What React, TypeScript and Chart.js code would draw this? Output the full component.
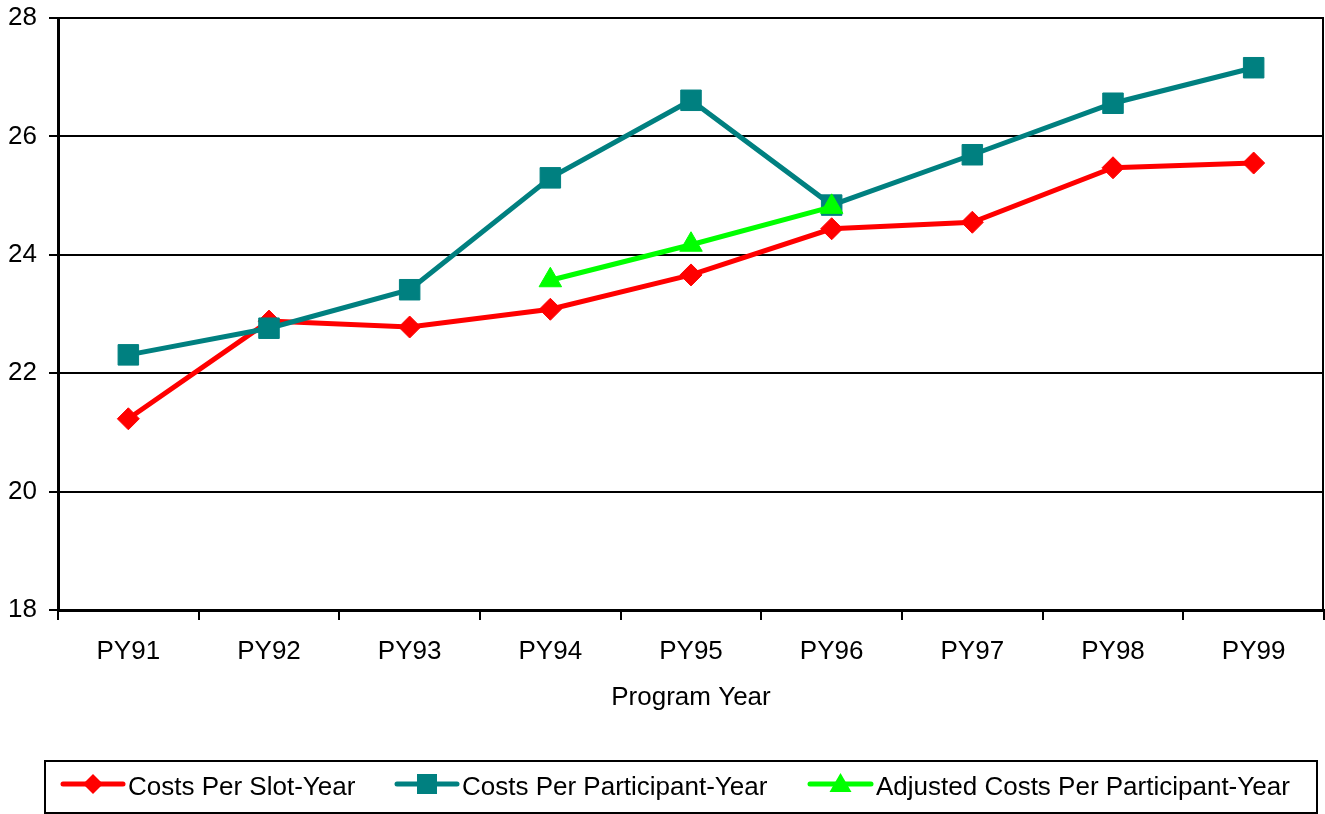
import React, { useEffect, useRef } from "react";
import { Chart, registerables } from "chart.js";

Chart.register(...registerables);

const categories = ["PY91", "PY92", "PY93", "PY94", "PY95", "PY96", "PY97", "PY98", "PY99"];
const slotYear = [21.23, 22.88, 22.78, 23.08, 23.66, 24.44, 24.55, 25.47, 25.55];
const participantYear = [22.31, 22.76, 23.41, 25.3, 26.61, 24.84, 25.69, 26.56, 27.16];
const adjustedParticipantYear = [null, null, null, 23.57, 24.17, 24.81, null, null, null];
const yTicks = [18, 20, 22, 24, 26, 28];

const FONT = "'Liberation Sans', Arial, sans-serif";
const RED = "#FF0000";
const TEAL = "#008080";
const GREEN = "#00FF00";

const legendItems = [
  { label: "Costs Per Slot-Year", color: RED, style: "diamond", x0: 63, x1: 123, tx: 128 },
  { label: "Costs Per Participant-Year", color: TEAL, style: "square", x0: 397, x1: 457, tx: 462 },
  { label: "Adjusted Costs Per Participant-Year", color: GREEN, style: "triangle", x0: 810, x1: 871, tx: 876 },
];

const framePlugin = {
  id: "frameAndLegend",
  afterDraw(chart: any) {
    const { ctx, chartArea } = chart;
    ctx.save();
    ctx.strokeStyle = "#000";
    ctx.lineWidth = 2;
    ctx.beginPath();
    ctx.moveTo(chartArea.right - 1, chartArea.top);
    ctx.lineTo(chartArea.right - 1, chartArea.bottom);
    ctx.stroke();

    ctx.lineWidth = 2;
    ctx.strokeRect(45, 761, 1272, 52);

    const ly = 784;
    legendItems.forEach((it) => {
      ctx.strokeStyle = it.color;
      ctx.fillStyle = it.color;
      ctx.lineWidth = 5;
      ctx.lineCap = "round";
      ctx.beginPath();
      ctx.moveTo(it.x0, ly);
      ctx.lineTo(it.x1, ly);
      ctx.stroke();
      const cx = (it.x0 + it.x1) / 2;
      ctx.beginPath();
      if (it.style === "diamond") {
        ctx.moveTo(cx, ly - 10);
        ctx.lineTo(cx + 10, ly);
        ctx.lineTo(cx, ly + 10);
        ctx.lineTo(cx - 10, ly);
        ctx.closePath();
      } else if (it.style === "square") {
        ctx.rect(cx - 10, ly - 10, 20, 20);
      } else {
        ctx.moveTo(cx, ly - 11);
        ctx.lineTo(cx + 11, ly + 8);
        ctx.lineTo(cx - 11, ly + 8);
        ctx.closePath();
      }
      ctx.fill();
      ctx.fillStyle = "#000";
      ctx.font = `26px ${FONT}`;
      ctx.textBaseline = "alphabetic";
      ctx.textAlign = "left";
      ctx.fillText(it.label, it.tx, 795);
    });
    ctx.restore();
  },
};

function zeroPadding(scale: any) {
  scale.paddingLeft = 0;
  scale.paddingRight = 0;
  scale.paddingTop = 0;
  scale.paddingBottom = 0;
}

export default function App() {
  const ref = useRef<HTMLCanvasElement | null>(null);

  useEffect(() => {
    if (!ref.current) return;
    const chart = new Chart(ref.current, {
      type: "line",
      data: {
        labels: categories,
        datasets: [
          {
            label: "Adjusted Costs Per Participant-Year",
            data: adjustedParticipantYear,
            borderColor: GREEN,
            backgroundColor: GREEN,
            borderWidth: 5,
            pointStyle: "triangle",
            pointRadius: 13,
            pointBorderWidth: 1,
            pointBorderColor: GREEN,
            tension: 0,
            spanGaps: false,
            clip: false,
          },
          {
            label: "Costs Per Participant-Year",
            data: participantYear,
            borderColor: TEAL,
            backgroundColor: TEAL,
            borderWidth: 5,
            pointStyle: "rect",
            pointRadius: 14.5,
            pointBorderWidth: 1,
            pointBorderColor: TEAL,
            tension: 0,
            clip: false,
          },
          {
            label: "Costs Per Slot-Year",
            data: slotYear,
            borderColor: RED,
            backgroundColor: RED,
            borderWidth: 5,
            pointStyle: "rectRot",
            pointRadius: 11,
            pointBorderWidth: 1,
            pointBorderColor: RED,
            tension: 0,
            clip: false,
          },
        ],
      },
      options: {
        animation: false,
        responsive: false,
        maintainAspectRatio: false,
        layout: { autoPadding: false, padding: { left: 0, top: 18, right: 1, bottom: 0 } },
        plugins: {
          legend: { display: false },
          tooltip: { enabled: false },
        },
        scales: {
          x: {
            type: "category",
            offset: true,
            grid: {
              offset: true,
              drawOnChartArea: false,
              drawTicks: true,
              tickLength: 10,
              color: "#000",
              lineWidth: 2,
            },
            border: { display: true, color: "#000", width: 3 },
            ticks: {
              color: "#000",
              font: { family: FONT, size: 26 },
              padding: 16,
              maxRotation: 0,
              autoSkip: false,
            },
            title: {
              display: true,
              text: "Program Year",
              color: "#000",
              font: { family: FONT, size: 26 },
              padding: { top: 0, bottom: 101 },
            },
            afterFit(scale: any) {
              scale.height = 204;
              zeroPadding(scale);
            },
          },
          y: {
            min: 18,
            max: 28,
            afterBuildTicks(scale: any) {
              scale.ticks = yTicks.map((v) => ({ value: v }));
            },
            grid: {
              color: "#000",
              lineWidth: 2,
              drawTicks: true,
              tickLength: 9,
            },
            border: { display: true, color: "#000", width: 3 },
            ticks: {
              color: "#000",
              font: { family: FONT, size: 26 },
              padding: 12,
            },
            afterFit(scale: any) {
              scale.width = 58;
              zeroPadding(scale);
            },
          },
        },
      },
      plugins: [framePlugin],
    });
    return () => chart.destroy();
  }, []);

  return (
    <div style={{ position: "absolute", left: 0, top: 0, width: 1325, height: 814, background: "#fff" }}>
      <canvas ref={ref} width={1325} height={814} style={{ display: "block", width: 1325, height: 814 }} />
    </div>
  );
}
